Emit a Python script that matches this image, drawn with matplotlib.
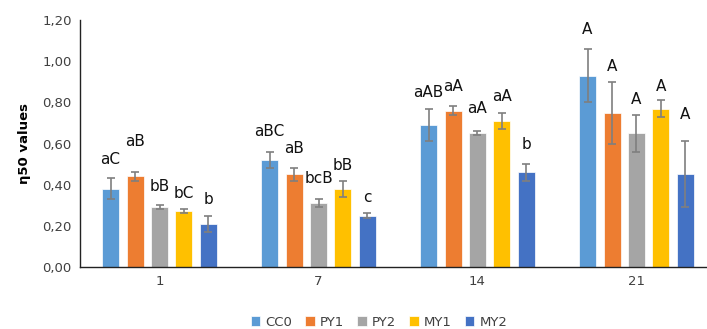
import matplotlib
matplotlib.use("Agg")
import matplotlib.pyplot as plt
import numpy as np

# data
days = ["1", "7", "14", "21"]
series = ["CC0", "PY1", "PY2", "MY1", "MY2"]
colors = ["#5B9BD5", "#ED7D31", "#A5A5A5", "#FFC000", "#4472C4"]

cc0 = [0.38, 0.52, 0.69, 0.93]
py1 = [0.44, 0.45, 0.76, 0.75]
py2 = [0.29, 0.31, 0.65, 0.65]
my1 = [0.27, 0.38, 0.71, 0.77]
my2 = [0.21, 0.25, 0.46, 0.45]

cc0_err = [0.05, 0.04, 0.08, 0.13]
py1_err = [0.02, 0.03, 0.02, 0.15]
py2_err = [0.01, 0.02, 0.01, 0.09]
my1_err = [0.01, 0.04, 0.04, 0.04]
my2_err = [0.04, 0.01, 0.04, 0.16]

# significance letters per series, one per day
cc0_lbl = ["aC", "aBC", "aAB", "A"]
py1_lbl = ["aB", "aB", "aA", "A"]
py2_lbl = ["bB", "bcB", "aA", "A"]
my1_lbl = ["bC", "bB", "aA", "A"]
my2_lbl = ["b", "c", "b", "A"]

# label heights (as placed in the original)
cc0_ly = [0.52, 0.656, 0.85, 1.155]
py1_ly = [0.612, 0.577, 0.876, 0.973]
py2_ly = [0.39, 0.431, 0.771, 0.816]
my1_ly = [0.358, 0.492, 0.827, 0.876]
my2_ly = [0.329, 0.337, 0.596, 0.739]

values = [cc0, py1, py2, my1, my2]
errors = [cc0_err, py1_err, py2_err, my1_err, my2_err]
labels = [cc0_lbl, py1_lbl, py2_lbl, my1_lbl, my2_lbl]
label_y = [cc0_ly, py1_ly, py2_ly, my1_ly, my2_ly]

fig = plt.figure(figsize=(7.07, 3.29), dpi=100)
ax = fig.add_axes([80 / 707, 62 / 329, 636 / 707, 247 / 329])

x = np.arange(len(days))
step = 0.154
width = 0.107
for i, name in enumerate(series):
    xs = x + (i - 2) * step
    ax.bar(xs, values[i], width, color=colors[i], label=name,
           edgecolor="white", linewidth=0.5,
           yerr=errors[i], ecolor="#7F7F7F",
           error_kw=dict(elinewidth=1.2, capsize=3, capthick=1.2))
    for xi, lab, ly in zip(xs, labels[i], label_y[i]):
        ax.text(xi, ly, lab, ha="center", va="center", fontsize=11,
                color="#111111")

ax.set_xlim(-0.5, 3.5)
ax.set_ylim(0, 1.2)
ticks = np.arange(0, 1.21, 0.2)
ax.set_yticks(ticks)
ax.set_yticklabels([f"{v:.2f}".replace(".", ",") for v in ticks])
ax.set_xticks(x)
ax.set_xticklabels(days)
ax.tick_params(axis="both", length=0, labelsize=9.5, colors="#404040", pad=6)
ax.tick_params(axis="x", pad=6)
ax.set_ylabel("η50 values", fontsize=9.5, fontweight="bold", labelpad=8)

for s in ["top", "right"]:
    ax.spines[s].set_visible(False)
for s in ["left", "bottom"]:
    ax.spines[s].set_color("#222222")
    ax.spines[s].set_linewidth(1.0)

fig.legend(loc="lower center", bbox_to_anchor=(379 / 707, -0.035), ncol=5,
           frameon=False, fontsize=9.5, handlelength=0.7, handleheight=0.7,
           columnspacing=1.0, handletextpad=0.4, labelcolor="#404040")

fig.savefig("out.png", dpi=100)
